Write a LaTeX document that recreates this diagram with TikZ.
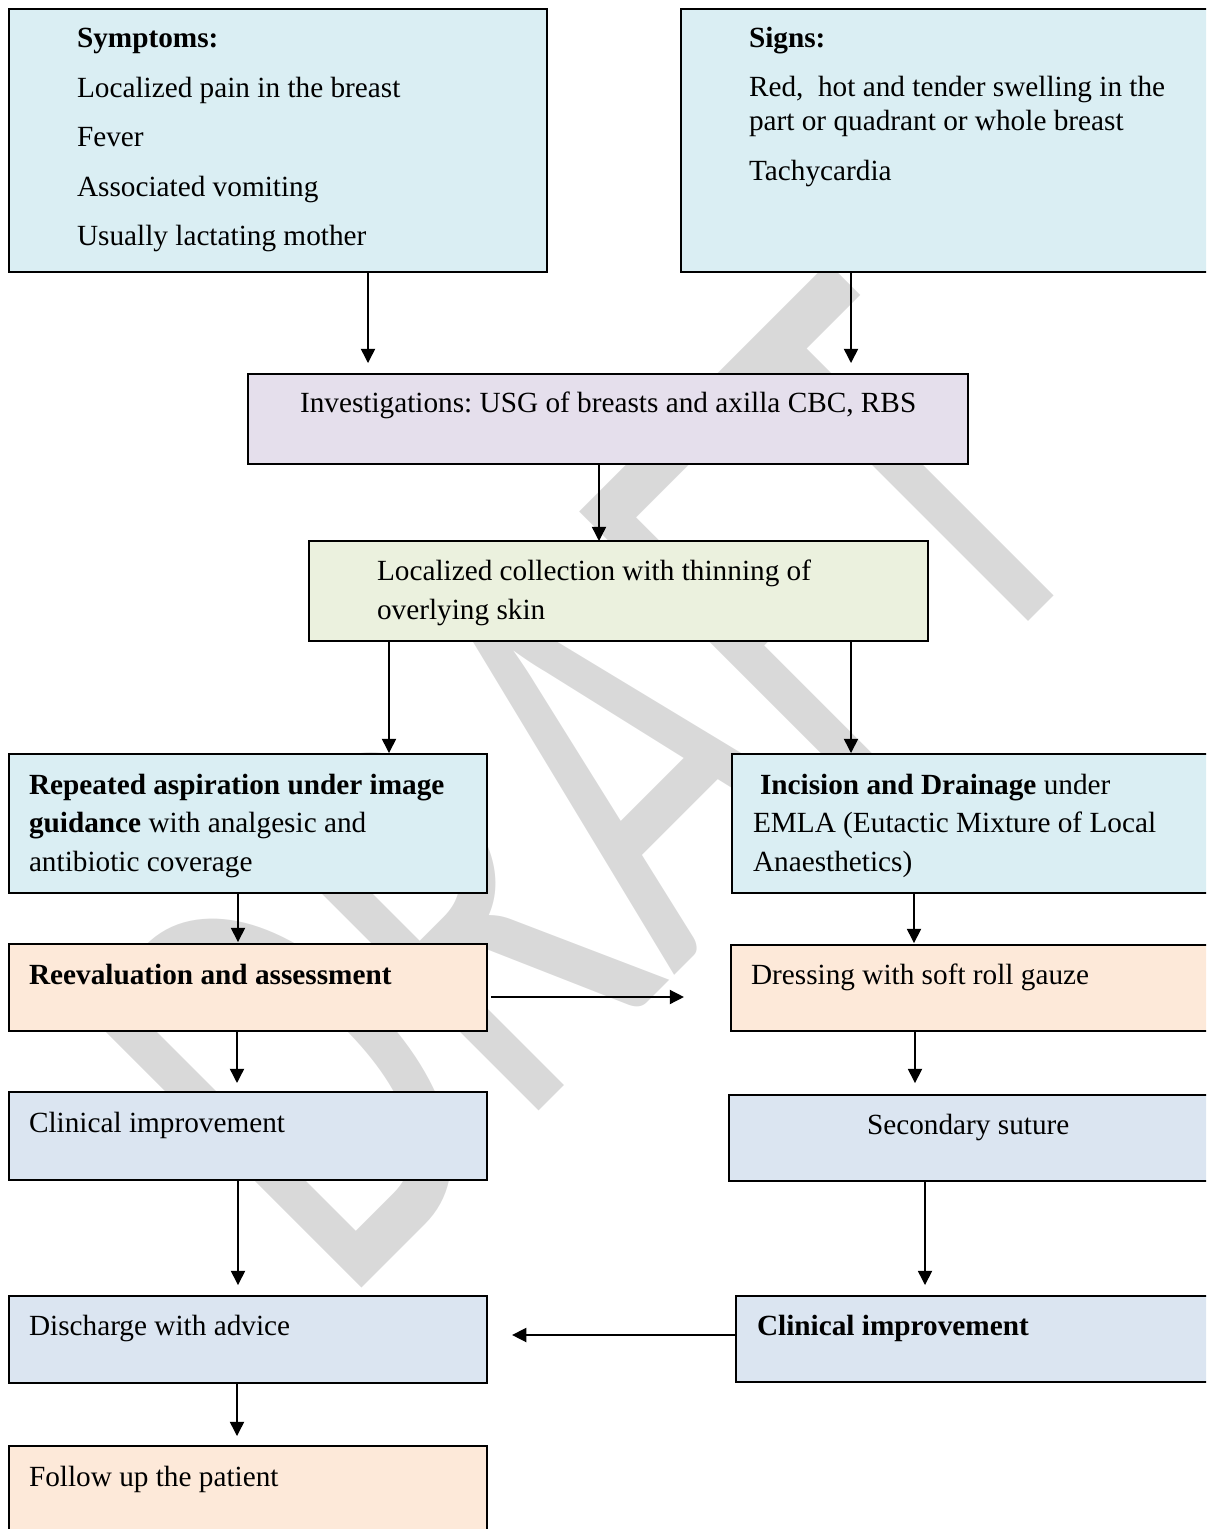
\documentclass[tikz,border=0pt]{standalone}
\usepackage{fontspec}
\setmainfont{Liberation Serif}
\newfontfamily\wmfont{Carlito}
\usetikzlibrary{arrows.meta,fit,calc}
\frenchspacing

\definecolor{cyanbox}{HTML}{DAEEF3}
\definecolor{lilacbox}{HTML}{E5DFEC}
\definecolor{olivebox}{HTML}{EBF1DE}
\definecolor{peachbox}{HTML}{FDE9D9}
\definecolor{bluebox}{HTML}{DBE5F1}
\definecolor{wmgray}{HTML}{D9D9D9}

\begin{document}
\begin{tikzpicture}[x=0.41pt,y=-0.41pt,
  box/.style={draw=black,line width=0.8pt,inner sep=0pt,outer sep=0pt},
  txt/.style={anchor=base west,inner sep=0pt,outer sep=0pt,font=\fontsize{12}{14}\selectfont},
  arr/.style={draw=black,line width=0.6pt,-{Triangle[length=5.8pt,width=5.8pt]}}]
\useasboundingbox (0,0) rectangle (1206,1529);
\clip (0,0) rectangle (1206,1529);

% watermark behind the boxes
\node[anchor=base west,inner sep=0pt,rotate=45,text=wmgray] (wm) at (342,1308)
  {\scalebox{1}[1.52]{\wmfont\fontsize{166}{166}\selectfont DRAFT}};

% boxes
\node[box,fill=cyanbox,fit={(9,9) (547,272)}] (symp) {};
\node[box,fill=cyanbox,fit={(681,9) (1222,272)}] (signs) {};
\node[box,fill=lilacbox,fit={(248,374) (968,464)}] (inv) {};
\node[box,fill=olivebox,fit={(309,541) (928,641)}] (coll) {};
\node[box,fill=cyanbox,fit={(9,754) (487,893)}] (asp) {};
\node[box,fill=cyanbox,fit={(732,754) (1222,893)}] (incis) {};
\node[box,fill=peachbox,fit={(9,944) (487,1031)}] (reev) {};
\node[box,fill=peachbox,fit={(731,945) (1222,1031)}] (dress) {};
\node[box,fill=bluebox,fit={(9,1092) (487,1180)}] (clinl) {};
\node[box,fill=bluebox,fit={(729,1095) (1222,1181)}] (suture) {};
\node[box,fill=bluebox,fit={(9,1296) (487,1383)}] (disch) {};
\node[box,fill=bluebox,fit={(736,1296) (1222,1382)}] (clinr) {};
\node[box,fill=peachbox,fit={(9,1446) (487,1545)}] (follow) {};

% texts
\node[txt] (symp-1) at (77,48) {\textbf{Symptoms:}};
\node[txt] (symp-2) at (77,97.5) {Localized pain in the breast};
\node[txt] (symp-3) at (77,147) {Fever};
\node[txt] (symp-4) at (77,196.5) {Associated vomiting};
\node[txt] (symp-5) at (77,246) {Usually lactating mother};

\node[txt] (signs-1) at (749,48) {\textbf{Signs:}};
\node[txt] (signs-2) at (749,97) {Red,\ \ hot and tender swelling in the};
\node[txt] (signs-3) at (749,131) {part or quadrant or whole breast};
\node[txt] (signs-4) at (749,181) {Tachycardia};

\node[txt] (inv-1) at (300,413) {Investigations: USG of breasts and axilla CBC, RBS};

\node[txt] (coll-1) at (377,580) {Localized collection with thinning of};
\node[txt] (coll-2) at (377,619) {overlying skin};

\node[txt] (asp-1) at (29,794) {\textbf{Repeated aspiration under image}};
\node[txt] (asp-2) at (29,832) {\textbf{guidance} with analgesic and};
\node[txt] (asp-3) at (29,871) {antibiotic coverage};

\node[txt] (incis-1) at (760,794) {\textbf{Incision and Drainage} under};
\node[txt] (incis-2) at (753,832) {EMLA (Eutactic Mixture of Local};
\node[txt] (incis-3) at (753,871) {Anaesthetics)};

\node[txt] (reev-1) at (29,984) {\textbf{Reevaluation and assessment}};
\node[txt] (dress-1) at (751,984) {Dressing with soft roll gauze};
\node[txt] (clinl-1) at (29,1132) {Clinical improvement};
\node[txt] (suture-1) at (867,1134) {Secondary suture};
\node[txt] (disch-1) at (29,1335) {Discharge with advice};
\node[txt] (clinr-1) at (757,1335) {\textbf{Clinical improvement}};
\node[txt] (follow-1) at (29,1486) {Follow up the patient};

% connectors
\draw[arr,shorten >=4.5pt] ($(symp.south west)+(359,0)$) coordinate (c1) -- (c1 |- inv.north);
\draw[arr,shorten >=4.5pt] ($(signs.south west)+(170,0)$) coordinate (c2) -- (c2 |- inv.north);
\draw[arr] ($(inv.south west)+(351,0)$) coordinate (c3) -- (c3 |- coll.north);
\draw[arr,shorten >=0.4pt] ($(coll.south west)+(80,0)$) coordinate (c4) -- (c4 |- asp.north);
\draw[arr,shorten >=0.4pt] ($(coll.south west)+(542,0)$) coordinate (c5) -- (c5 |- incis.north);
\draw[arr,shorten >=0.8pt] ($(asp.south west)+(229,0)$) coordinate (c6) -- (c6 |- reev.north);
\draw[arr,shorten >=0.8pt] ($(incis.south west)+(182,0)$) coordinate (c7) -- (c7 |- dress.north);
\draw[arr,shorten <=1.6pt,shorten >=19.3pt] ($(reev.north east)+(0,53)$) coordinate (c8) -- (c8 -| dress.west);
\draw[arr,shorten >=3.7pt] ($(reev.south west)+(228,0)$) coordinate (c9) -- (c9 |- clinl.north);
\draw[arr,shorten >=4.9pt] ($(dress.south west)+(184,0)$) coordinate (c10) -- (c10 |- suture.north);
\draw[arr,shorten >=4.5pt] ($(clinl.south west)+(229,0)$) coordinate (c11) -- (c11 |- disch.north);
\draw[arr,shorten >=4.5pt] ($(suture.south west)+(196,0)$) coordinate (c12) -- (c12 |- clinr.north);
\draw[arr,shorten >=10.3pt] ($(clinr.north west)+(0,39)$) coordinate (c13) -- (c13 -| disch.east);
\draw[arr,shorten >=4.1pt] ($(disch.south west)+(228,0)$) coordinate (c14) -- (c14 |- follow.north);
\end{tikzpicture}
\end{document}
